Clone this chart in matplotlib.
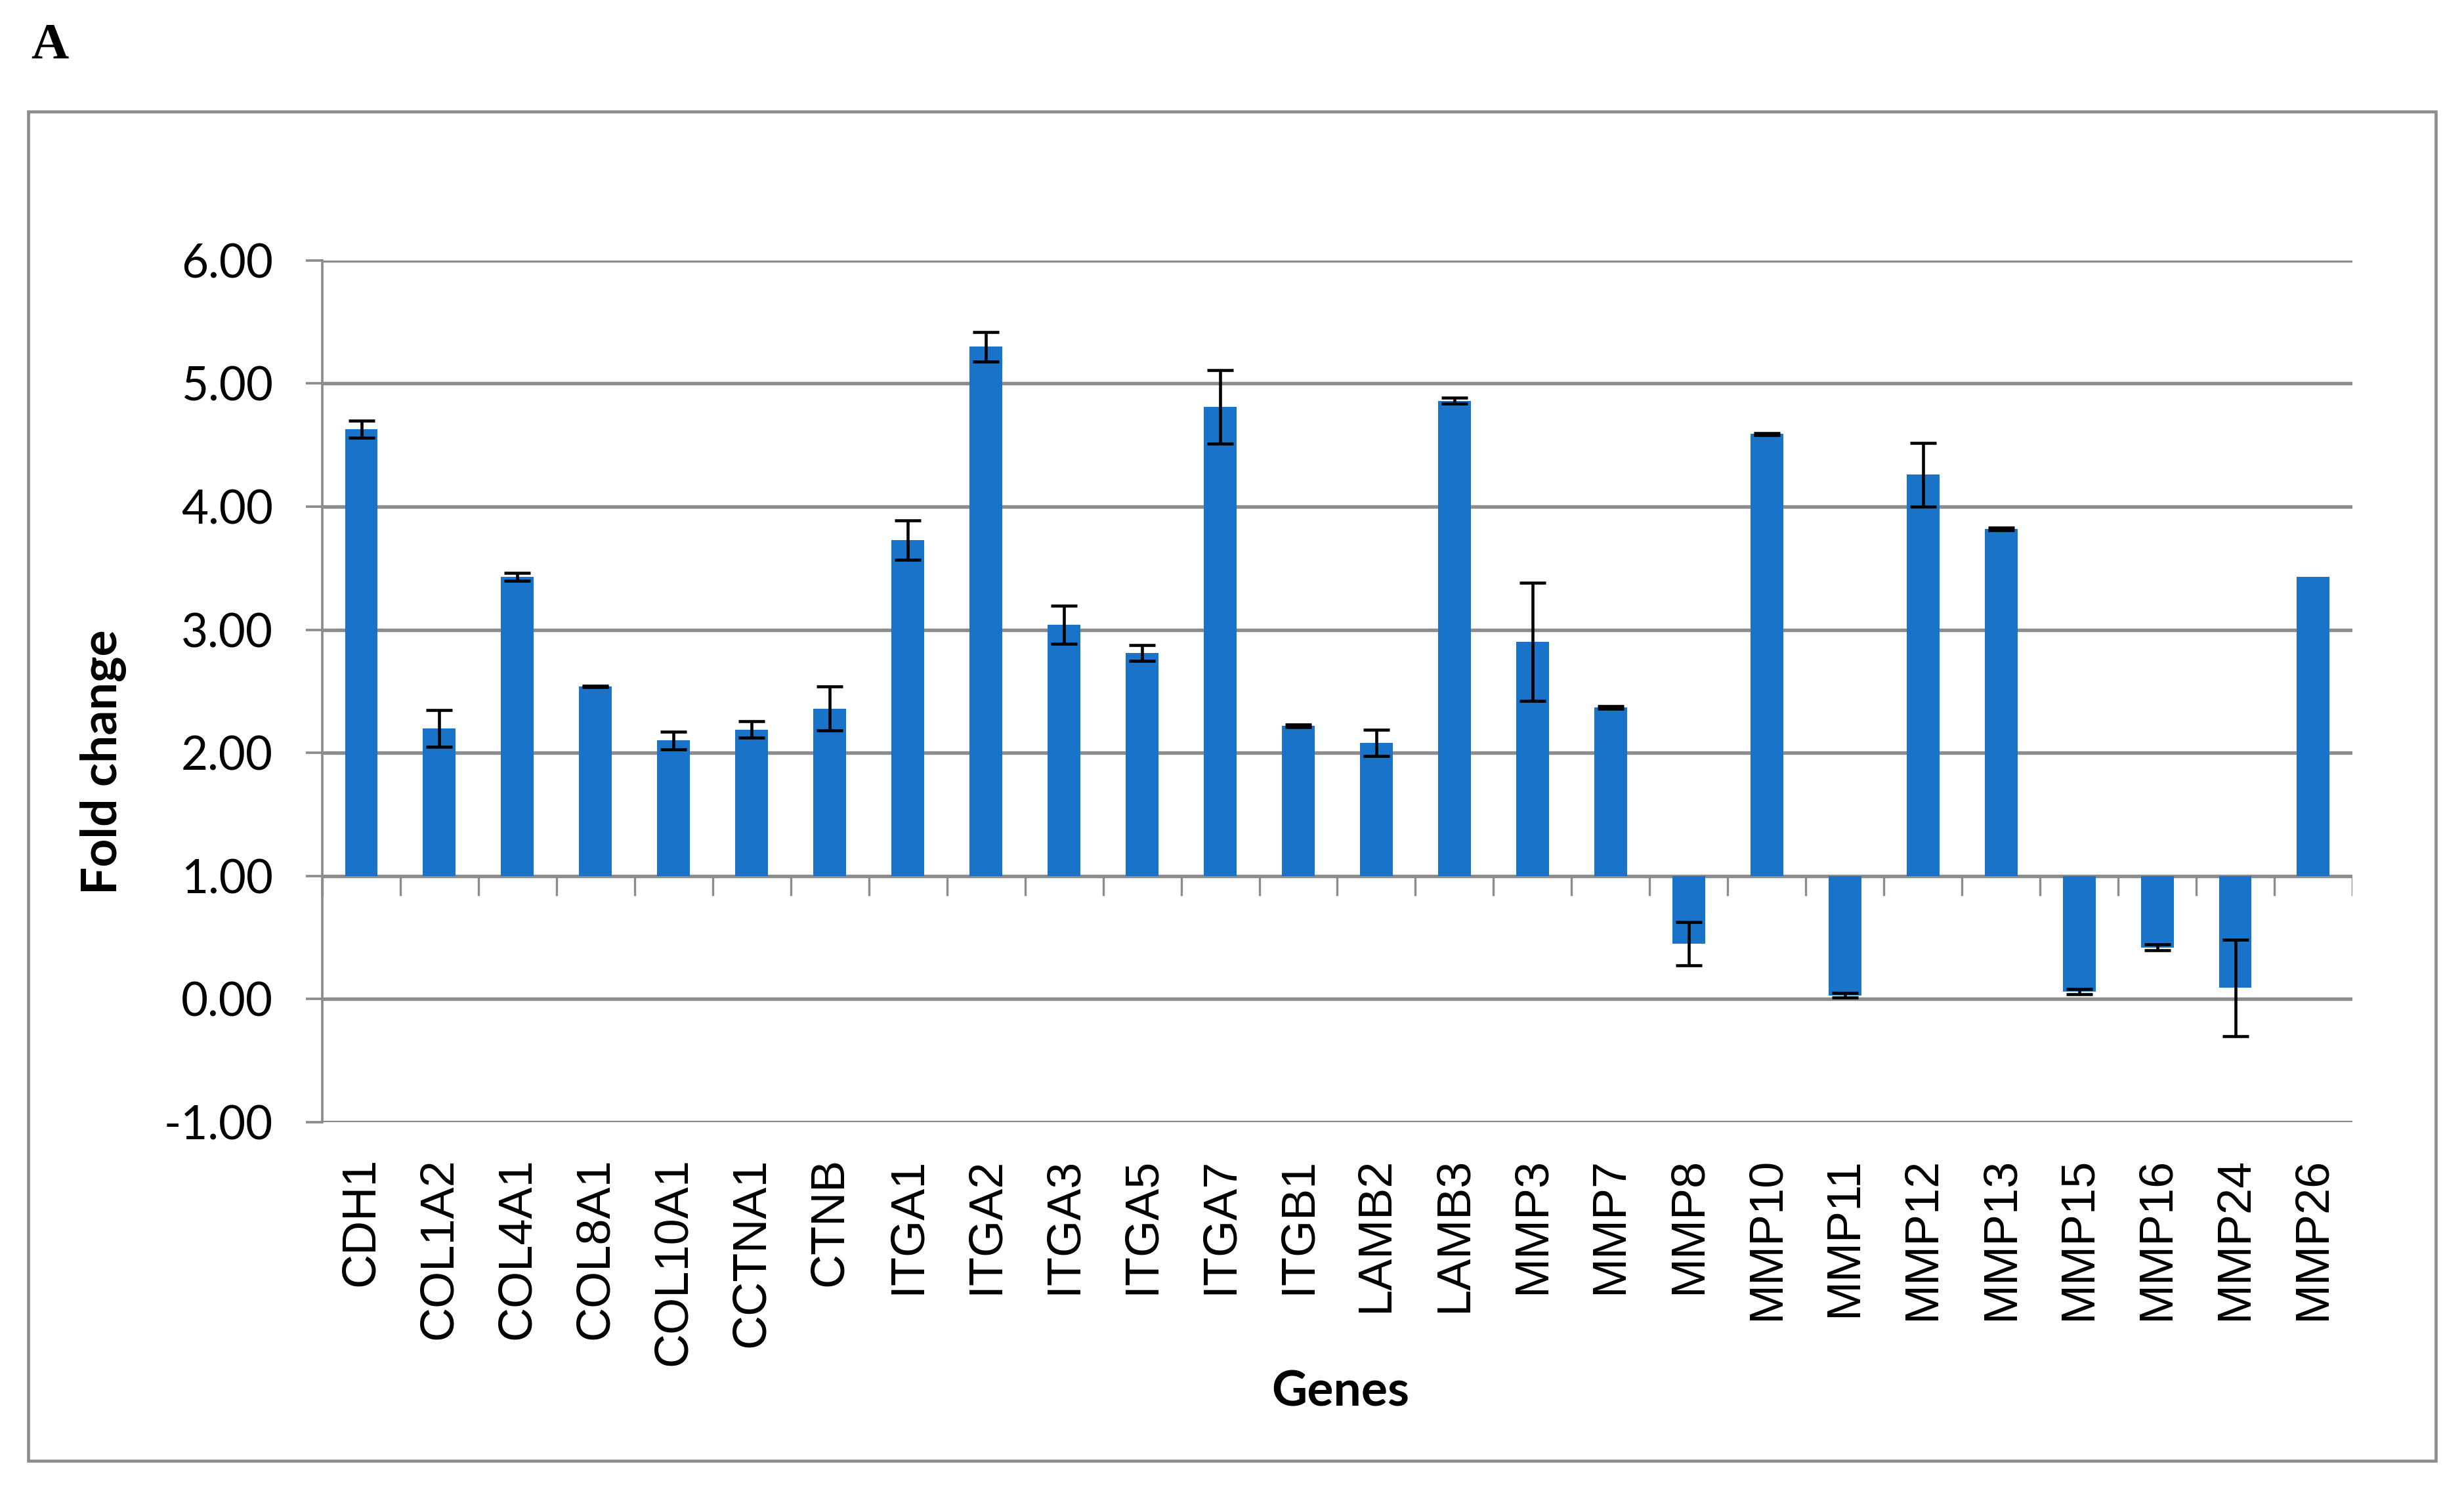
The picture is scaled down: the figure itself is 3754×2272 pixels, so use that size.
import matplotlib
matplotlib.use("Agg")
import matplotlib.pyplot as plt
from matplotlib.patches import Rectangle
import numpy as np

# Fold change per gene (bars drawn from the 1.00 baseline)
genes = ["CDH1", "COL1A2", "COL4A1", "COL8A1", "COL10A1", "CCTNA1", "CTNB",
         "ITGA1", "ITGA2", "ITGA3", "ITGA5", "ITGA7", "ITGB1", "LAMB2",
         "LAMB3", "MMP3", "MMP7", "MMP8", "MMP10", "MMP11", "MMP12",
         "MMP13", "MMP15", "MMP16", "MMP24", "MMP26"]
fold_change = [4.63, 2.20, 3.43, 2.54, 2.10, 2.19, 2.36,
               3.73, 5.30, 3.04, 2.81, 4.81, 2.22, 2.08,
               4.86, 2.90, 2.37, 0.45, 4.59, 0.03, 4.26,
               3.82, 0.06, 0.42, 0.09, 3.43]
errors = [0.07, 0.15, 0.03, 0.005, 0.07, 0.065, 0.18,
          0.16, 0.12, 0.155, 0.065, 0.30, 0.01, 0.105,
          0.025, 0.48, 0.01, 0.175, 0.01, 0.02, 0.26,
          0.01, 0.02, 0.025, 0.39, 0.0]
y_ticks = [-1, 0, 1, 2, 3, 4, 5, 6]

baseline = 1.0
bar_color = "#1973C8"
grid_color = "#8C8C8C"

fig = plt.figure(figsize=(3754 / 300, 2272 / 300), dpi=300)
ax = fig.add_axes([0.1308, 0.2474, 0.9547 - 0.1308, 0.8253 - 0.2474])

x = np.arange(len(genes))
vals = np.array(fold_change)
err = np.array(errors)
err = np.where(err > 0, err, np.nan)

ax.bar(x, vals - baseline, bottom=baseline, width=0.42, color=bar_color,
       zorder=3)
ax.errorbar(x, vals, yerr=err, fmt="none", ecolor="black", elinewidth=1.1,
            capsize=4.8, capthick=1.1, zorder=4)

# gridlines at each tick
for yv in y_ticks:
    ax.axhline(yv, color=grid_color, linewidth=1.3, zorder=1)

# category separators hanging below the baseline
ax.vlines(np.arange(len(genes) + 1) - 0.5, baseline - 0.16, baseline,
          color=grid_color, linewidth=0.8, zorder=2)

ax.set_xlim(-0.5, len(genes) - 0.5)
ax.set_ylim(-1, 6)
ax.set_yticks(y_ticks)
ax.set_yticklabels(["%.2f" % v for v in y_ticks], fontfamily="Lato",
                   fontsize=17)
ax.tick_params(axis="y", direction="out", length=6, width=0.9,
               color=grid_color, pad=12)
ax.set_xticks(x)
ax.set_xticklabels(genes, rotation=90, fontfamily="Liberation Sans",
                   fontsize=17.3)
ax.tick_params(axis="x", length=0, pad=13)

for side in ["top", "right", "bottom"]:
    ax.spines[side].set_visible(False)
ax.spines["left"].set_color(grid_color)
ax.spines["left"].set_linewidth(0.9)

fig.text(0.042, 0.489, "Fold change", rotation=90, ha="center", va="center",
         fontfamily="Lato", fontweight="bold", fontsize=18)
fig.text(0.544, 0.0665, "Genes", ha="center", va="center",
         fontfamily="Lato", fontweight="bold", fontsize=18)
fig.text(0.0125, 0.961, "A", ha="left", va="baseline",
         fontfamily="Liberation Serif", fontweight="bold", fontsize=19)

# outer chart frame
fig.patches.append(Rectangle((43 / 3754, 1 - 2226 / 2272),
                             (3711 - 43) / 3754, (2226 - 170) / 2272,
                             transform=fig.transFigure, fill=False,
                             edgecolor=grid_color, linewidth=1.1))

fig.savefig("out.png", dpi=300, facecolor="white")
